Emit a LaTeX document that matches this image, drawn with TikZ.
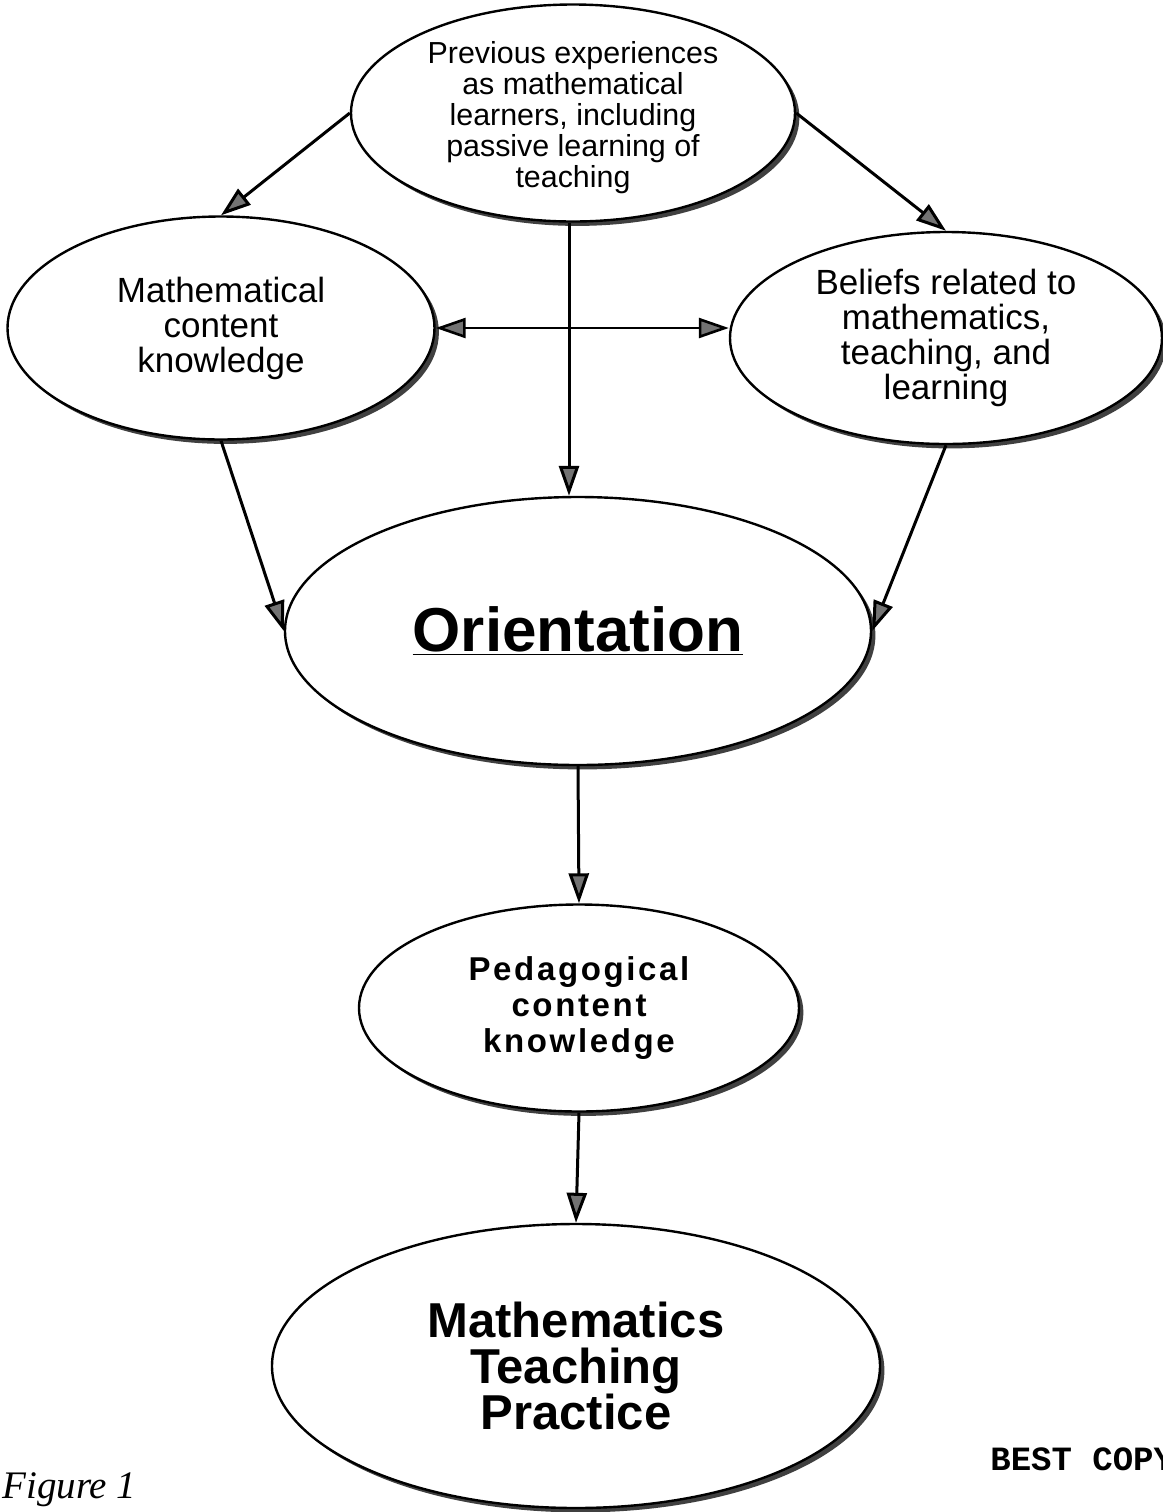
\documentclass[tikz,border=0pt]{standalone}
\usepackage{fontspec}
\setmainfont{Liberation Sans}
\newfontfamily\serifit{Liberation Serif}
\newfontfamily\monob{Liberation Mono}
\usetikzlibrary{shapes.geometric,shadows,arrows.meta,calc}
\tikzset{
  oval/.style={ellipse, draw=black, line width=1.2pt, fill=white, inner sep=0pt, align=center,
    drop shadow={shadow xshift=2.2pt, shadow yshift=-2.2pt, opacity=1, fill=black!75}},
  >={Triangle[length=15pt,width=10pt,fill=black!55]},
  arr/.style={line width=1.5pt, ->},
  darr/.style={line width=1.3pt, <->},
}
\begin{document}
\begin{tikzpicture}[x=0.5pt,y=-0.5pt]
\fill[white] (0,0) rectangle (1163,1512);
\useasboundingbox (0,0) rectangle (1163,1512);

\node[oval, minimum width=222pt, minimum height=108.5pt] (top) at (573,113) {};
\node[align=center, inner sep=0pt, font=\fontsize{15.2}{15.5}\selectfont] (toptext) at (573,118)
  {Previous experiences\\as mathematical\\learners, including\\passive learning of\\teaching};
\node[oval, minimum width=213.5pt, minimum height=111.5pt, font=\fontsize{17.5}{17.5}\selectfont]
  (left) at (221,328) {Mathematical\\content\\knowledge};
\node[oval, minimum width=216pt, minimum height=106pt, font=\fontsize{17.5}{17.5}\selectfont]
  (right) at (946,338) {Beliefs related to\\mathematics,\\teaching, and\\learning};
\node[oval, minimum width=293pt, minimum height=134pt, font=\fontsize{31}{31}\selectfont\bfseries]
  (ori) at (578,631) {\underline{Orientation}};
\node[oval, minimum width=220pt, minimum height=103.5pt, font=\fontsize{16.5}{18}\selectfont\bfseries\addfontfeatures{LetterSpace=8}]
  (ped) at (579,1008) {Pedagogical\\content\\knowledge};
\node[oval, minimum width=304pt, minimum height=142pt, font=\fontsize{24.5}{23}\selectfont\bfseries]
  (mtp) at (576,1366) {Mathematics\\Teaching\\Practice};

\node[anchor=base west, inner sep=0pt, font=\serifit\itshape\fontsize{19.5}{20}\selectfont] (fig) at (2,1498) {Figure 1};
\node[anchor=base west, inner sep=0pt, font=\monob\bfseries\fontsize{17}{17}\selectfont] (best) at (990,1470) {BEST COPY};

\coordinate (vtop) at ([xshift=-2pt]top.south);
\draw[arr] (top.west) -- (left.north);
\draw[arr] (top.east) -- (right.north);
\draw[arr] (vtop) -- (vtop |- ori.north);
\draw[darr] (left.east) -- (left.east -| right.west);
\draw[arr] (left.south) -- (ori.west);
\draw[arr] (right.south) -- (ori.east);
\draw[arr] (ori.south) -- (ped.north);
\draw[arr] (ped.south) -- (mtp.north);
\end{tikzpicture}
\end{document}
